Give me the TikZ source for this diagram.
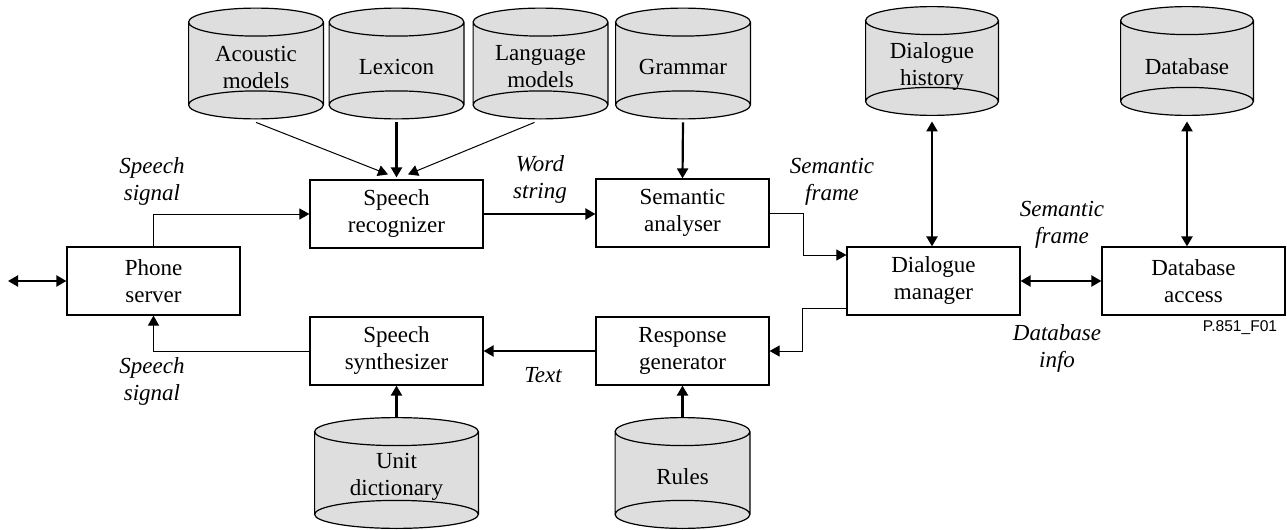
\documentclass[tikz,border=0pt]{standalone}
\usepackage{fontspec}
\setmainfont{Liberation Serif}
\setsansfont{Liberation Sans}
\usepackage{tikz}
\usetikzlibrary{arrows.meta,calc,backgrounds}

\definecolor{dbgray}{gray}{0.87}
\newcommand{\diafont}{\fontsize{11.5}{13.5}\selectfont}

\tikzset{
  box/.style={draw,line width=0.6pt,minimum width=86.5pt,minimum height=34pt,
    align=center,font=\diafont,inner sep=1pt},
  store/.style={minimum width=#1,minimum height=55pt,align=center,
    font=\diafont,inner sep=1pt},
  lbl/.style={align=center,font=\diafont\itshape,inner sep=1pt},
  fat/.style={line width=1.1pt},
  slim/.style={line width=0.5pt},
}

\begin{document}
\begin{tikzpicture}[x=0.5pt,y=-0.5pt,>={Triangle[length=5pt,width=5.5pt]}]
  \useasboundingbox (0,0) rectangle (1287,530);

  % processing blocks
  \node[box] (ps) at (153.5,281) {Phone\\server};
  \node[box] (sr) at (396.5,214) {Speech\\recognizer};
  \node[box] (sa) at (682.5,213) {Semantic\\analyser};
  \node[box] (dm) at (933.5,281) {Dialogue\\manager};
  \node[box,minimum width=91.5pt] (da) at (1193.5,281) {Database\\access};
  \node[box] (ss) at (396.5,351) {Speech\\synthesizer};
  \node[box] (rg) at (682.5,351) {Response\\generator};

  % data stores (text sits a little below the middle of the drum)
  \node[store=67pt] (acou) at (256,67) {Acoustic\\models};
  \node[store=67pt] (lex) at (396.5,67) {Lexicon};
  \node[store=67pt] (lang) at (540.5,67) {Language\\models};
  \node[store=67pt] (gram) at (683,67) {Grammar};
  \node[store=66pt,minimum height=54pt] (dh) at (932,67) {Dialogue\\history};
  \node[store=66pt,minimum height=54pt] (db) at (1187,67) {Database};
  \node[store=81.5pt] (ud) at (396.5,476.5) {Unit\\dictionary};
  \node[store=67pt] (ru) at (682.5,476.5) {Rules};

  \begin{scope}[on background layer]
    \foreach \s/\d in {acou/1.75pt,lex/1.75pt,lang/1.75pt,gram/1.75pt,
                       dh/3pt,db/3pt,ud/1.75pt,ru/1.75pt}{
      \path[draw,line width=0.6pt,fill=dbgray]
        let \p1=([yshift=\d]\s.north west), \p2=([yshift=\d]\s.south east),
            \n1={(\x2-\x1)/2} in
        (\x1,\y1-7pt) -- (\x1,\y2+7pt)
        arc[start angle=180,end angle=360,x radius=\n1,y radius=7pt]
        -- (\x2,\y1-7pt)
        arc[start angle=0,end angle=180,x radius=\n1,y radius=7pt] -- cycle
        (\x1+\n1,\y1-7pt) ellipse[x radius=\n1,y radius=7pt]
        (\x1+\n1,\y2+7pt) ellipse[x radius=\n1,y radius=7pt];
    }
  \end{scope}

  % labels
  \node[lbl] (sig1) at (152,181) {Speech\\signal};
  \node[lbl] (ws) at (540,179) {Word\\string};
  \node[lbl] (sf1) at (832,182) {Semantic\\frame};
  \node[lbl] (sf2) at (1062,225) {Semantic\\frame};
  \node[lbl] (di) at (1057,348) {Database\\info};
  \node[lbl] (tx) at (543,375) {Text};
  \node[lbl] (sig2) at (152,381) {Speech\\signal};
  \node[font=\sffamily\fontsize{7.8}{9}\selectfont,inner sep=0pt] (fig) at (1240,328) {P.851\_F01};

  \coordinate (ext) at (8,281);

  % connectors
  \draw[slim,->] (ps.north) |- (sr.west);
  \draw[slim,->] (acou.south) -- ([xshift=-4.25pt,yshift=2.5pt]sr.north);
  \draw[fat,->,shorten >=1pt] (lex.south) -- (sr.north);
  \draw[slim,->] ([xshift=-3pt]lang.south) -- ([xshift=5.75pt,yshift=2.5pt]sr.north);
  \draw[fat,->] (gram.south) -- (sa.north);
  \draw[fat,->] (sr.east) -- (sr.east -| sa.west);
  \draw[slim,->] (sa.east) -- ++(34,0) |- ([yshift=13pt]dm.west);
  \draw[slim,->] ([yshift=-13.5pt]dm.west) -- ++(-44,0) |- (rg.east);
  \draw[fat,->] (rg.west) -- (ss.east);
  \draw[slim,->] (ss.west) -| (ps.south);
  \draw[fat,<->] (dh.south) -- (dh.south |- dm.north);
  \draw[fat,<->] (db.south) -- (db.south |- da.north);
  \draw[fat,<->] (dm.east) -- (da.west);
  \draw[fat,<->] (ext) -- (ps.west);
  \draw[fat,->] ([yshift=1.75pt]ud.north) -- (ss.south);
  \draw[fat,->] ([yshift=1.75pt]ru.north) -- (rg.south);

\end{tikzpicture}
\end{document}
